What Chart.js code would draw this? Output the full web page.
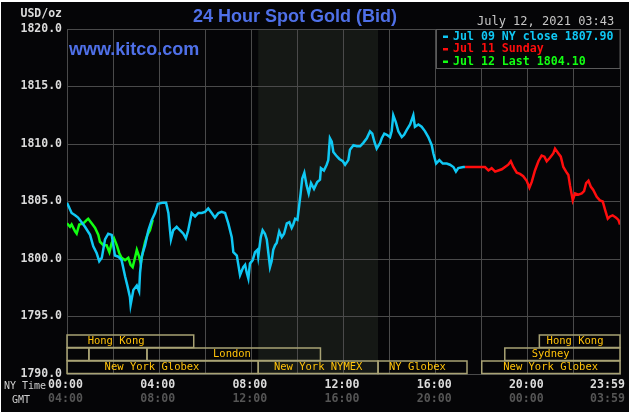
<!DOCTYPE html>
<html>
<head>
<meta charset="utf-8">
<script src="https://cdn.jsdelivr.net/npm/chart.js@4.4.0/dist/chart.umd.min.js"></script>
<style>
  html, body { margin: 0; padding: 0; background: #fff; }
  canvas { display: block; }
</style>
</head>
<body>
<canvas id="goldChart" width="633" height="415"></canvas>
<script>
// hours after 00:00 New York time, price in USD/oz
const fridayHours = [0, 0.2, 0.35, 0.48, 0.78, 1.0, 1.14, 1.29, 1.4, 1.51, 1.65, 1.79, 1.94, 2.08, 2.23, 2.37, 2.52, 2.63, 2.73, 2.76, 2.88, 3.03, 3.13, 3.17, 3.24, 3.39, 3.53, 3.68, 3.82, 3.94, 4.18, 4.3, 4.4, 4.47, 4.51, 4.61, 4.76, 4.9, 5.05, 5.16, 5.26, 5.41, 5.56, 5.7, 5.85, 5.99, 6.13, 6.28, 6.42, 6.57, 6.71, 6.86, 7.0, 7.15, 7.22, 7.37, 7.51, 7.65, 7.73, 7.8, 7.87, 7.94, 8.06, 8.16, 8.26, 8.3, 8.41, 8.49, 8.59, 8.67, 8.74, 8.81, 8.88, 8.95, 9.03, 9.1, 9.21, 9.32, 9.42, 9.54, 9.65, 9.75, 9.82, 9.9, 10.0, 10.08, 10.14, 10.21, 10.3, 10.4, 10.49, 10.59, 10.72, 10.86, 10.98, 11.02, 11.15, 11.27, 11.34, 11.41, 11.49, 11.56, 11.68, 11.82, 11.97, 12.07, 12.21, 12.28, 12.43, 12.57, 12.72, 12.86, 13.01, 13.15, 13.25, 13.34, 13.44, 13.59, 13.66, 13.77, 13.88, 14.02, 14.09, 14.16, 14.27, 14.38, 14.53, 14.63, 14.74, 14.89, 15.03, 15.1, 15.25, 15.39, 15.54, 15.68, 15.83, 15.9, 16.02, 16.16, 16.31, 16.48, 16.62, 16.77, 16.88, 16.98, 17.2, 17.27];
const fridayPrices = [1804.9, 1804.0, 1803.8, 1803.6, 1802.8, 1802.1, 1801.1, 1800.5, 1799.8, 1800.1, 1801.7, 1802.2, 1802.1, 1800.3, 1800.2, 1799.9, 1798.5, 1797.6, 1796.7, 1796.0, 1797.3, 1797.7, 1797.2, 1798.8, 1800.2, 1801.2, 1802.5, 1803.4, 1804.0, 1804.8, 1804.9, 1804.9, 1804.0, 1802.5, 1801.7, 1802.5, 1802.8, 1802.5, 1802.2, 1801.8, 1802.5, 1804.0, 1803.7, 1804.0, 1804.0, 1804.1, 1804.4, 1804.0, 1803.6, 1804.0, 1804.1, 1804.0, 1803.1, 1801.9, 1800.6, 1800.3, 1798.6, 1799.3, 1799.5, 1798.8, 1798.3, 1799.6, 1799.9, 1800.6, 1800.8, 1800.2, 1801.9, 1802.5, 1802.2, 1801.7, 1800.5, 1799.3, 1799.8, 1800.8, 1801.2, 1801.4, 1802.4, 1801.9, 1802.2, 1803.1, 1803.2, 1802.7, 1803.0, 1803.5, 1803.4, 1804.7, 1805.7, 1807.0, 1807.5, 1806.4, 1805.7, 1806.6, 1806.1, 1806.7, 1806.9, 1807.9, 1807.7, 1808.2, 1808.6, 1810.5, 1810.2, 1809.3, 1809.0, 1808.7, 1808.5, 1808.2, 1808.6, 1809.5, 1809.9, 1809.8, 1809.8, 1810.1, 1810.5, 1811.1, 1810.9, 1810.2, 1809.6, 1810.1, 1810.5, 1810.9, 1810.8, 1810.6, 1811.1, 1812.5, 1811.9, 1811.1, 1810.6, 1810.8, 1811.2, 1811.7, 1812.5, 1811.5, 1811.7, 1811.5, 1811.1, 1810.6, 1809.9, 1809.2, 1808.3, 1808.6, 1808.3, 1808.3, 1808.2, 1808.0, 1807.6, 1807.9, 1808.0, 1808.0];

const sundayHours = [17.27, 18.14, 18.29, 18.43, 18.58, 18.72, 18.87, 19.01, 19.15, 19.26, 19.37, 19.52, 19.66, 19.8, 19.95, 20.07, 20.17, 20.31, 20.46, 20.6, 20.72, 20.82, 20.96, 21.11, 21.18, 21.32, 21.43, 21.54, 21.66, 21.76, 21.83, 21.95, 22.05, 22.19, 22.34, 22.44, 22.53, 22.63, 22.73, 22.84, 22.99, 23.13, 23.25, 23.35, 23.47, 23.57, 23.68, 23.83, 23.93, 24.0];
const sundayPrices = [1808.0, 1808.0, 1807.7, 1807.9, 1807.6, 1807.7, 1807.8, 1808.0, 1808.2, 1808.5, 1808.0, 1807.5, 1807.4, 1807.2, 1806.8, 1806.2, 1806.7, 1807.7, 1808.5, 1809.0, 1808.9, 1808.5, 1808.8, 1809.2, 1809.6, 1809.2, 1808.9, 1808.0, 1807.6, 1807.3, 1806.4, 1805.1, 1805.7, 1805.6, 1805.7, 1805.9, 1806.6, 1806.8, 1806.3, 1806.0, 1805.4, 1805.1, 1805.0, 1804.3, 1803.5, 1803.7, 1803.8, 1803.6, 1803.4, 1803.0];

const mondayHours = [0, 0.13, 0.2, 0.35, 0.42, 0.53, 0.71, 0.86, 0.92, 1.07, 1.22, 1.36, 1.43, 1.58, 1.72, 1.84, 1.94, 2.04, 2.16, 2.27, 2.37, 2.52, 2.66, 2.76, 2.85, 2.95, 3.03, 3.13, 3.2, 3.29, 3.39, 3.49, 3.6, 3.72];
const mondayPrices = [1803.1, 1802.8, 1803.0, 1802.4, 1802.2, 1803.0, 1803.1, 1803.4, 1803.5, 1803.1, 1802.7, 1802.1, 1801.5, 1801.2, 1801.2, 1800.6, 1801.4, 1801.8, 1801.2, 1800.5, 1800.1, 1799.9, 1800.1, 1799.5, 1799.3, 1800.1, 1800.8, 1800.2, 1799.6, 1800.6, 1801.5, 1802.1, 1802.5, 1803.4];

const yTicks = [1790, 1795, 1800, 1805, 1810, 1815, 1820];
const xTickHours = [0, 4, 8, 12, 16, 20, 24];
const nyTimeLabels = ['00:00', '04:00', '08:00', '12:00', '16:00', '20:00', '23:59'];
const gmtLabels = ['04:00', '08:00', '12:00', '16:00', '20:00', '00:00', '03:59'];

const legendLabels = ['Jul 09 NY close 1807.90', 'Jul 11 Sunday', 'Jul 12 Last 1804.10'];
const lineColors = ['#10c8f4', '#ff0d0d', '#12ff12'];

const nymexSpan = [8.3, 13.5];
// trading sessions per row: start hour, end hour, name, hour where name is centred
const sessionRows = [
  [[0, 5.5, 'Hong Kong', 2.13], [20.5, 24, 'Hong Kong', 22.05]],
  [[0, 0.95, '', 0], [0.95, 3.47, '', 0], [3.47, 11, 'London', 7.16], [19, 24, 'Sydney', 20.99]],
  [[0, 8.3, 'New York Globex', 3.69], [8.3, 13.5, 'New York NYMEX', 10.9], [13.5, 17.36, 'NY Globex', 15.21], [18, 24, 'New York Globex', 20.99]]
];

const toPoints = (hours, prices) => hours.map((h, i) => ({ x: h, y: prices[i] }));

const mono = '"DejaVu Sans Mono", "Liberation Mono", monospace';

const kitcoDecor = {
  id: 'kitcoDecor',
  beforeDraw(chart) {
    const { ctx, chartArea: a, scales: { x } } = chart;
    ctx.save();
    ctx.fillStyle = '#fff';
    ctx.fillRect(0, 0, chart.width, chart.height);
    ctx.fillStyle = '#050507';
    ctx.fillRect(1, 2, 628, 410);
    // NYMEX open hours
    const s = x.getPixelForValue(nymexSpan[0]);
    const e = x.getPixelForValue(nymexSpan[1]);
    ctx.fillStyle = '#151815';
    ctx.fillRect(s, a.top, e - s, a.bottom - a.top);
    ctx.restore();
  },
  afterDraw(chart) {
    const { ctx, chartArea: a, scales: { x, y } } = chart;
    ctx.save();

    // y tick labels
    ctx.font = 'bold 11.5px ' + mono;
    ctx.fillStyle = '#dcdcdc';
    ctx.textAlign = 'right';
    ctx.textBaseline = 'middle';
    yTicks.forEach(v => ctx.fillText(v.toFixed(1), a.left - 5, y.getPixelForValue(v)));
    ctx.fillText('USD/oz', a.left - 5, 14);

    // x tick labels, NY time and GMT
    ctx.font = 'bold 11.6px ' + mono;
    xTickHours.forEach((h, i) => {
      const last = i === xTickHours.length - 1;
      ctx.textAlign = last ? 'right' : 'center';
      const px = last ? x.getPixelForValue(h) + 5 : x.getPixelForValue(h) - 1.5;
      ctx.fillStyle = '#dcdcdc';
      ctx.fillText(nyTimeLabels[i], px, a.bottom + 11);
      ctx.fillStyle = '#555';
      ctx.fillText(gmtLabels[i], px, a.bottom + 25);
    });
    ctx.font = '10px ' + mono;
    ctx.fillStyle = '#cfcfcf';
    ctx.textAlign = 'left';
    ctx.fillText('NY Time', 4, a.bottom + 12);
    ctx.fillText('GMT', 12, a.bottom + 26);

    // session boxes
    ctx.lineWidth = 1.5;
    ctx.strokeStyle = '#a8a274';
    ctx.font = '10.5px ' + mono;
    ctx.textAlign = 'center';
    sessionRows.forEach((row, r) => {
      const top = a.bottom - 39 + r * 13;
      row.forEach(([from, to, name, at]) => {
        const x0 = x.getPixelForValue(from);
        const x1 = x.getPixelForValue(to);
        ctx.strokeRect(x0, top, x1 - x0, 12.5);
        if (name) {
          ctx.fillStyle = '#ffc20a';
          ctx.fillText(name, x.getPixelForValue(at), top + 6.5);
        }
      });
    });

    // legend box
    ctx.fillStyle = '#050507';
    ctx.fillRect(436, a.top, a.right - 436, 39);
    ctx.lineWidth = 1;
    ctx.strokeStyle = '#5a5a5a';
    ctx.strokeRect(436.5, a.top + 0.5, a.right - 436.5, 39);
    ctx.font = 'bold 11.6px ' + mono;
    ctx.textAlign = 'left';
    legendLabels.forEach((txt, i) => {
      const ly = a.top + 7.5 + i * 12.5;
      ctx.fillStyle = lineColors[i];
      ctx.fillRect(443, ly - 1, 5, 2.5);
      ctx.fillText(txt, 453, ly);
    });

    // titles
    ctx.textAlign = 'center';
    ctx.font = 'bold 18px "Liberation Sans", Arial, sans-serif';
    ctx.fillStyle = '#4f70e8';
    ctx.fillText('24 Hour Spot Gold (Bid)', 295, 17);
    ctx.textAlign = 'left';
    ctx.font = 'bold 18px "Liberation Sans", Arial, sans-serif';
    ctx.fillText('www.kitco.com', 69, 50);
    ctx.font = '12px ' + mono;
    ctx.fillStyle = '#c8c8c8';
    ctx.fillText('July 12, 2021 03:43', 477, 22);

    ctx.restore();
  }
};

const line = (label, pts, color) => ({
  label: label,
  data: pts,
  borderColor: color,
  borderWidth: 2.5,
  pointRadius: 0,
  tension: 0,
  fill: false
});

new Chart(document.getElementById('goldChart'), {
  type: 'line',
  data: {
    datasets: [
      line(legendLabels[0], toPoints(fridayHours, fridayPrices), lineColors[0]),
      line(legendLabels[1], toPoints(sundayHours, sundayPrices), lineColors[1]),
      line(legendLabels[2], toPoints(mondayHours, mondayPrices), lineColors[2])
    ]
  },
  options: {
    responsive: false,
    animation: false,
    layout: { padding: { left: 67, right: 13, top: 29, bottom: 41 } },
    plugins: { legend: { display: false }, tooltip: { enabled: false } },
    scales: {
      x: {
        type: 'linear', min: 0, max: 24,
        ticks: { display: false, stepSize: 2 },
        grid: { color: '#4a4a4a', drawTicks: false },
        border: { color: '#4a4a4a' }
      },
      y: {
        min: 1790, max: 1820,
        ticks: { display: false, stepSize: 5 },
        grid: { color: '#4a4a4a', drawTicks: false },
        border: { color: '#4a4a4a' }
      }
    }
  },
  plugins: [kitcoDecor]
});
</script>
</body>
</html>
